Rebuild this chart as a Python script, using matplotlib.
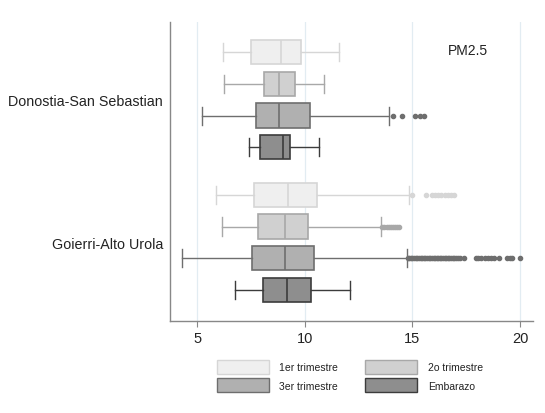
import matplotlib
matplotlib.use("Agg")
import matplotlib.pyplot as plt
from matplotlib.patches import Patch

plt.rcParams['font.family'] = ['Liberation Sans', 'DejaVu Sans']

regions = ["Donostia-San Sebastian", "Goierri-Alto Urola"]
series = ["1er trimestre", "2o trimestre", "3er trimestre", "Embarazo"]

# per region, per series: whislo, q1, med, q3, whishi
donostia_stats = [
    [6.18, 7.49, 8.91, 9.83, 11.59],
    [6.25, 8.10, 8.82, 9.56, 10.89],
    [5.22, 7.72, 8.82, 10.22, 13.93],
    [7.40, 7.94, 8.97, 9.31, 10.64],
]
goierri_stats = [
    [5.89, 7.66, 9.22, 10.55, 14.83],
    [6.15, 7.85, 9.07, 10.13, 13.55],
    [4.31, 7.57, 9.08, 10.43, 14.73],
    [6.78, 8.05, 9.16, 10.31, 12.09],
]
donostia_fliers = [
    [],
    [],
    [14.11, 14.52, 15.13, 15.36, 15.56],
    [],
]
goierri_fliers = [
    [14.97, 15.65, 15.9, 16.05, 16.2, 16.35, 16.5, 16.65, 16.8, 16.92],
    [13.6, 13.7, 13.8, 13.9, 14.0, 14.1, 14.2, 14.3, 14.38],
    [14.78, 14.85, 14.92, 15.0, 15.08, 15.15, 15.22, 15.3, 15.38, 15.45,
     15.52, 15.6, 15.68, 15.75, 15.82, 15.9, 15.98, 16.05, 16.12, 16.2,
     16.28, 16.35, 16.42, 16.5, 16.58, 16.65, 16.72, 16.8, 16.88, 16.95,
     17.02, 17.1, 17.2, 17.39, 17.93, 18.05, 18.2, 18.35, 18.5, 18.65,
     18.8, 19.02, 19.38, 19.55, 19.62, 20.0],
    [],
]
xticks = [5, 10, 15, 20]
annotation = "PM2.5"

fills = ["#efefef", "#d0d0d0", "#b0b0b0", "#8e8e8e"]
edges = ["#d6d6d6", "#a8a8a8", "#6e6e6e", "#3c3c3c"]

fig = plt.figure(figsize=(5.45, 4.14), dpi=100)
ax = fig.add_axes([170/545, 1-322/414, (533-170)/545, (322-23)/414])

all_stats = [donostia_stats, goierri_stats]
all_fliers = [donostia_fliers, goierri_fliers]
group_offsets = [0.0, 4.5]

for g, (stats, fliers) in enumerate(zip(all_stats, all_fliers)):
    for i, (s, f) in enumerate(zip(stats, fliers)):
        d = dict(whislo=s[0], q1=s[1], med=s[2], q3=s[3], whishi=s[4], fliers=f)
        pos = group_offsets[g] + i
        ec = edges[i]
        ax.bxp([d], positions=[pos], vert=False, widths=0.76, capwidths=0.57,
               patch_artist=True, showfliers=True,
               boxprops=dict(facecolor=fills[i], edgecolor=ec, linewidth=1.2),
               medianprops=dict(color=ec, linewidth=1.2),
               whiskerprops=dict(color=ec, linewidth=1.0),
               capprops=dict(color=ec, linewidth=1.0),
               flierprops=dict(marker='o', markersize=3, markerfacecolor=ec,
                               markeredgecolor=ec, linestyle='none'),
               zorder=3)

ax.set_ylim(8.48, -0.95)
ax.set_xlim(3.74, 20.6)
ax.set_xticks(xticks)
ax.set_xticklabels([str(t) for t in xticks], fontsize=10.5, color='#222222')
ax.set_yticks([1.5, 6.0])
ax.set_yticklabels(regions, fontsize=10.3, color='#222222')
ax.tick_params(axis='y', length=0, pad=5)
ax.tick_params(axis='x', length=4, color='#888888', width=0.8)
ax.grid(axis='x', color='#e2ecf2', linewidth=0.9, zorder=0)
ax.set_axisbelow(True)
for sp in ['top', 'right']:
    ax.spines[sp].set_visible(False)
for sp in ['left', 'bottom']:
    ax.spines[sp].set_color('#888888')
    ax.spines[sp].set_linewidth(1.0)

ax.text(0.765, 0.905, annotation, transform=ax.transAxes, fontsize=10,
        ha='left', va='center', color='#222222')

handles = [Patch(facecolor=fills[i], edgecolor=edges[i], linewidth=1.0) for i in range(4)]
order = [0, 2, 1, 3]
fig.legend([handles[i] for i in order], [series[i] for i in order], ncol=2,
           loc='center', bbox_to_anchor=(350/545, 1-377/414), frameon=False,
           fontsize=7.5, handlelength=5.0, handleheight=1.7, columnspacing=2.6,
           handletextpad=1.0, labelspacing=0.45, labelcolor='#222222')

fig.savefig("out.png", dpi=100)
